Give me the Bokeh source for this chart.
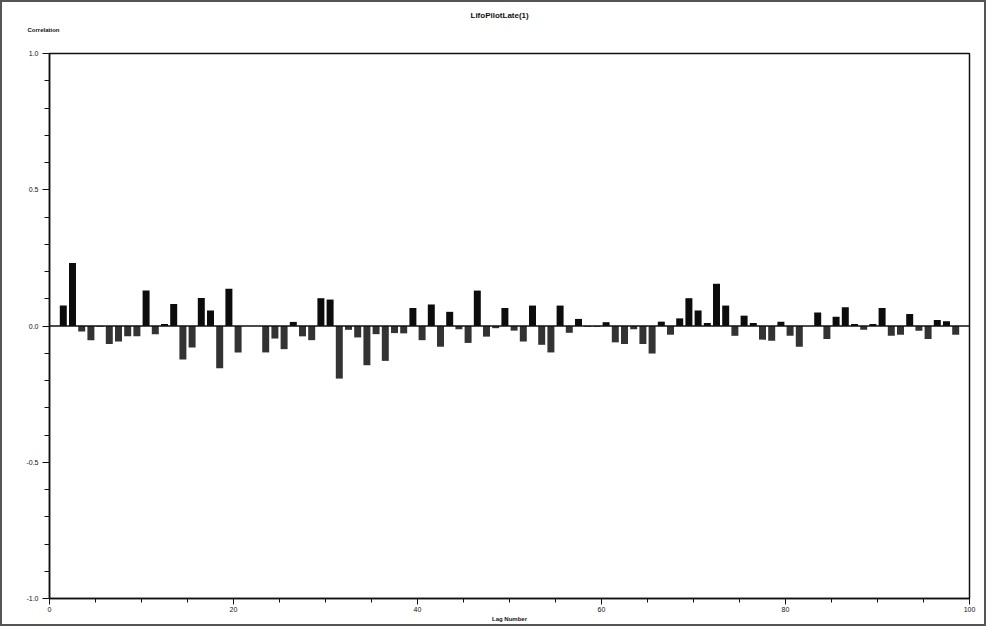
from bokeh.plotting import figure
from bokeh.models import FixedTicker, Span, Title, ColumnDataSource, PrintfTickFormatter
from bokeh.embed import file_html
from bokeh.resources import INLINE

# ---- data ----
lags = list(range(1, 99))
acf = [
    0.075, 0.231, -0.020, -0.052, -0.003, -0.066, -0.057, -0.038, -0.038, 0.130,
    -0.030, 0.007, 0.081, -0.123, -0.079, 0.103, 0.057, -0.155, 0.137, -0.097,
    0.000, 0.000, -0.097, -0.046, -0.085, 0.015, -0.038, -0.052, 0.102, 0.097,
    -0.193, -0.014, -0.042, -0.144, -0.030, -0.128, -0.026, -0.027, 0.066, -0.052,
    0.079, -0.076, 0.052, -0.012, -0.062, 0.130, -0.039, -0.008, 0.066, -0.017,
    -0.057, 0.075, -0.069, -0.097, 0.075, -0.025, 0.026, -0.003, -0.003, 0.014,
    -0.060, -0.066, -0.012, -0.066, -0.101, 0.016, -0.032, 0.028, 0.102, 0.057,
    0.011, 0.155, 0.075, -0.036, 0.038, 0.011, -0.050, -0.054, 0.016, -0.036,
    -0.076, 0.000, 0.050, -0.048, 0.034, 0.069, 0.007, -0.014, 0.007, 0.066,
    -0.036, -0.032, 0.044, -0.017, -0.048, 0.022, 0.017, -0.032,
]
x_ticks = [0, 20, 40, 60, 80, 100]
x_minor_ticks = list(range(0, 101, 5))
y_ticks = [-1.0, -0.5, 0.0, 0.5, 1.0]
y_tick_labels = ["-1.0", "-0.5", "0.0", "0.5", "1.0"]
y_minor_ticks = [round(-1 + 0.1 * i, 1) for i in range(21)]

chart_title = "LifoPilotLate(1)"
y_title = "Correlation"
x_title = "Lag Number"

FW, FH = 920, 545

src = ColumnDataSource(dict(
    x=[l + 0.5 for l in lags],
    top=acf,
    color=["#0c0c0c" if v >= 0 else "#333333" for v in acf],
))

p = figure(frame_width=FW, frame_height=FH, x_range=(0, 100), y_range=(-1, 1),
           output_backend="svg", toolbar_location=None,
           min_border_left=47, min_border_right=15, min_border_top=51, min_border_bottom=24,
           background_fill_color="white", border_fill_color="white")
p.styles = {"border": "2px solid #555"}

p.xgrid.visible = False
p.ygrid.visible = False
p.outline_line_color = "#111111"
p.outline_line_width = 1.5

p.vbar(x="x", top="top", bottom=0, width=0.76, fill_color="color", line_color=None, source=src)
p.add_layout(Span(location=0, dimension="width", line_color="#111111", line_width=1.5))

font = "Liberation Sans"

xa = p.xaxis[0]
xa.ticker = FixedTicker(ticks=x_ticks, minor_ticks=x_minor_ticks)
xa.axis_line_width = 1.5
xa.axis_line_color = "#111111"
xa.major_tick_out = 6
xa.major_tick_in = 0
xa.minor_tick_out = 4
xa.minor_tick_in = 0
xa.major_tick_line_color = "#111111"
xa.minor_tick_line_color = "#111111"
xa.major_label_text_font = font
xa.major_label_text_font_size = "7px"
xa.major_label_text_color = "#111111"
xa.major_label_standoff = 2
xa.axis_label = x_title
xa.axis_label_text_font = font
xa.axis_label_text_font_size = "6px"
xa.axis_label_text_font_style = "bold"
xa.axis_label_text_color = "#111111"
xa.axis_label_standoff = 1

ya = p.yaxis[0]
ya.ticker = FixedTicker(ticks=y_ticks, minor_ticks=y_minor_ticks)
ya.formatter = PrintfTickFormatter(format="%.1f")
ya.major_label_overrides = {t: s for t, s in zip(y_ticks, y_tick_labels)}
ya.axis_line_width = 1.5
ya.axis_line_color = "#111111"
ya.major_tick_out = 7
ya.major_tick_in = 0
ya.minor_tick_out = 5
ya.minor_tick_in = 0
ya.major_tick_line_color = "#111111"
ya.minor_tick_line_color = "#111111"
ya.major_label_text_font = font
ya.major_label_text_font_size = "7px"
ya.major_label_text_color = "#111111"
ya.major_label_standoff = 4

# main title (outermost panel)
p.title.text = chart_title
p.title.align = "left"
p.title.offset = 421
p.title.text_font = font
p.title.text_font_size = "8px"
p.title.text_font_style = "bold"
p.title.text_color = "#111111"
p.title.standoff = 8

# spacer panel next to the frame, then the "Correlation" caption
p.add_layout(Title(text=" ", text_font_size="6px", standoff=12), "above")
p.add_layout(Title(text=y_title, align="left", offset=-22, text_font=font,
                   text_font_size="6px", text_font_style="bold", text_color="#111111",
                   standoff=2), "above")

open("out.html", "w").write(file_html(p, INLINE))
